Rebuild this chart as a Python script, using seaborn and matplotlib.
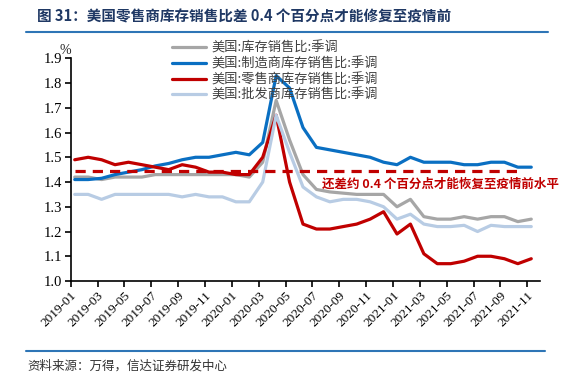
import numpy as np
import pandas as pd
import matplotlib
matplotlib.use('Agg')
import matplotlib.pyplot as plt
import matplotlib.transforms as mtransforms
from matplotlib.lines import Line2D
import seaborn as sns

# months 2019-01 .. 2021-11
months = pd.date_range('2019-01-01', '2021-11-01', freq='MS').strftime('%Y-%m').tolist()

total = [1.42, 1.42, 1.41, 1.42, 1.42, 1.42, 1.43, 1.43, 1.43, 1.43, 1.43, 1.43,
         1.43, 1.42, 1.48, 1.73, 1.57, 1.43, 1.37, 1.36, 1.355, 1.35, 1.35, 1.35,
         1.30, 1.33, 1.26, 1.25, 1.25, 1.26, 1.25, 1.26, 1.26, 1.24, 1.25]
manuf = [1.41, 1.41, 1.415, 1.43, 1.44, 1.45, 1.465, 1.475, 1.49, 1.50, 1.50, 1.51,
         1.52, 1.51, 1.56, 1.83, 1.78, 1.62, 1.54, 1.53, 1.52, 1.51, 1.50, 1.48,
         1.47, 1.50, 1.48, 1.48, 1.48, 1.47, 1.47, 1.48, 1.48, 1.46, 1.46]
retail = [1.49, 1.50, 1.49, 1.47, 1.48, 1.47, 1.46, 1.45, 1.47, 1.46, 1.44, 1.44,
          1.43, 1.43, 1.50, 1.67, 1.40, 1.23, 1.21, 1.21, 1.22, 1.23, 1.25, 1.28,
          1.19, 1.23, 1.11, 1.07, 1.07, 1.08, 1.10, 1.10, 1.09, 1.07, 1.09]
wholesale = [1.35, 1.35, 1.33, 1.35, 1.35, 1.35, 1.35, 1.35, 1.34, 1.35, 1.34, 1.34,
             1.32, 1.32, 1.40, 1.67, 1.52, 1.38, 1.34, 1.32, 1.33, 1.33, 1.32, 1.30,
             1.25, 1.27, 1.23, 1.22, 1.22, 1.225, 1.20, 1.225, 1.22, 1.22, 1.22]

names = ['美国:库存销售比:季调', '美国:制造商库存销售比:季调',
         '美国:零售商库存销售比:季调', '美国:批发商库存销售比:季调']
colors = ['#A6A6A6', '#0A6FC2', '#C00000', '#B8CCE4']

gap_level = 1.445          # pre-pandemic retail level (dashed)
gap_end = '2021-10'

sns.set_style('ticks')
plt.rcParams['font.family'] = ['Liberation Serif', 'Noto Sans CJK SC']
cjk = ['Noto Sans CJK SC', 'DejaVu Sans']

df = pd.DataFrame({'idx': range(len(months)), names[0]: total, names[1]: manuf,
                   names[2]: retail, names[3]: wholesale})
long = df.melt(id_vars='idx', var_name='series', value_name='value')

fig = plt.figure(figsize=(5.77, 3.81), dpi=100)
ax = fig.add_axes([70.7/577, 1-281/381, (540-70.7)/577, (281-58.3)/381])

sns.lineplot(data=long, x='idx', y='value', hue='series', hue_order=names,
             palette=dict(zip(names, colors)), linewidth=2.3, ax=ax)

ax.hlines(gap_level, 0, months.index(gap_end), colors='#C00000',
          linestyles=(0, (3.2, 2.2)), linewidth=2.3, zorder=5)
ax.text(18.4, 1.392, '还差约 0.4 个百分点才能恢复至疫情前水平', color='#C00000',
        fontsize=9, fontweight='bold', family=cjk, va='center', ha='left',
        clip_on=False)

ax.set_xlim(-0.3, 34.65)
ax.set_ylim(1.0, 1.9)
ax.set_yticks(np.arange(1.0, 1.91, 0.1))
ax.set_yticklabels([f'{v:.1f}' for v in np.arange(1.0, 1.91, 0.1)], fontsize=10.5)
ticks = list(range(0, len(months), 2))
ax.set_xticks(np.array(ticks) - 0.3)
ax.set_xticklabels([months[i] for i in ticks], rotation=45, ha='right',
                   rotation_mode='anchor', fontsize=9.5)
off = mtransforms.ScaledTranslation(6/100, -2/100, fig.dpi_scale_trans)
for lab in ax.get_xticklabels():
    lab.set_transform(lab.get_transform() + off)
ax.set_xlabel('')
ax.set_ylabel('')
ax.tick_params(axis='both', direction='out', length=4, width=1.2, colors='black', pad=2)
for s in ['top', 'right']:
    ax.spines[s].set_visible(False)
for s in ['left', 'bottom']:
    ax.spines[s].set_linewidth(1.2)
    ax.spines[s].set_color('black')
ax.text(-0.7, 1.93, '%', fontsize=10, ha='center', va='center', clip_on=False)

handles, labels = ax.get_legend_handles_labels()
leg = ax.legend(handles, labels, loc='upper left', bbox_to_anchor=(160/577, 1-30/381),
                bbox_transform=fig.transFigure, frameon=False, handlelength=2.6,
                handletextpad=0.4, labelspacing=0.18, prop={'family': cjk, 'size': 9.5})
for t in leg.get_texts():
    t.set_color('#404040')

fig.text(37/577, 1-16.8/381, '图 31：美国零售商库存销售比差 0.4 个百分点才能修复至疫情前',
         fontsize=10.5, fontweight='bold', color='#1F3864', family=cjk, va='center')
fig.add_artist(Line2D([26/577, 548/577], [1-31.7/381]*2, color='#2E75B6', lw=1.5))
fig.add_artist(Line2D([26/577, 545/577], [1-351/381]*2, color='#2E75B6', lw=1.5))
fig.text(27/577, 1-365.7/381, '资料来源：万得，信达证券研发中心', fontsize=9,
         color='#333333', family=cjk, style='italic', va='center')

fig.savefig('out.png', dpi=100)
